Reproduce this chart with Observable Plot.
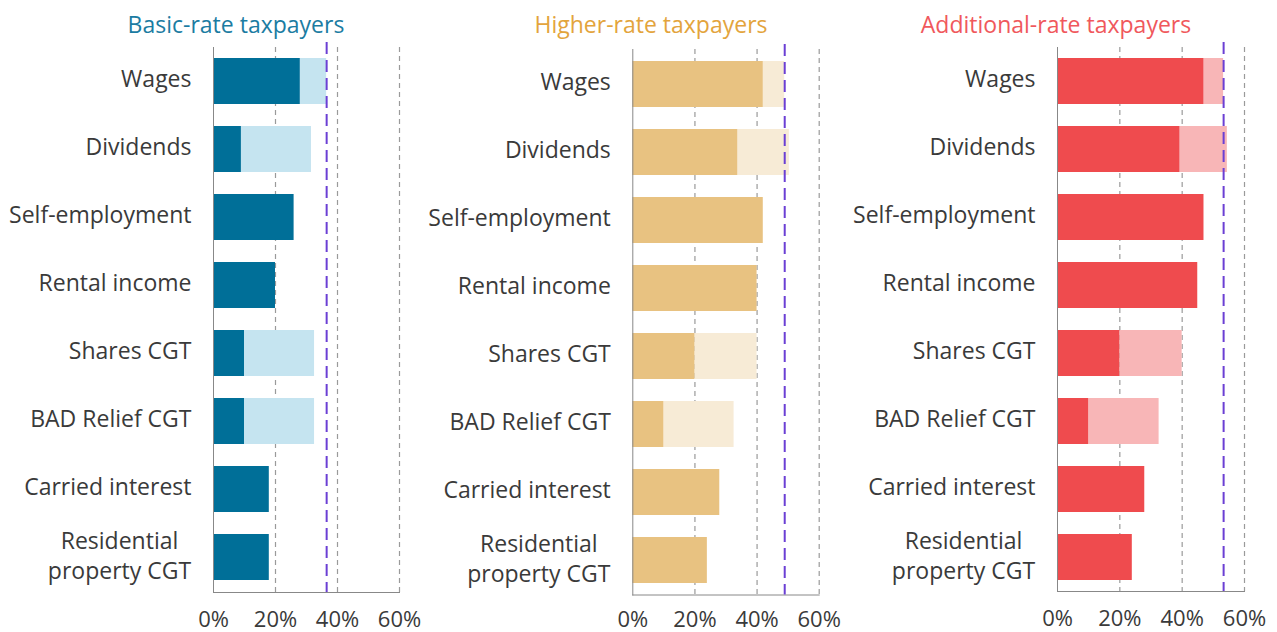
<!DOCTYPE html>
<html>
<head>
<meta charset="utf-8">
<script src="https://cdn.jsdelivr.net/npm/d3@7"></script>
<script src="https://cdn.jsdelivr.net/npm/@observablehq/plot@0.6"></script>
<style>
  html, body { margin: 0; padding: 0; background: #fff; }
  #chart { position: relative; width: 1277px; height: 632px; font-family: "Open Sans", "Noto Sans", sans-serif; }
  .panel { position: absolute; top: 0; }
  .title { position: absolute; top: 11px; font-size: 23px; line-height: 1.2; white-space: nowrap; transform: translateX(-50%); }
</style>
</head>
<body>
<div id="chart"></div>
<script>
// ---- data ----
const categories = ["Wages", "Dividends", "Self-employment", "Rental income", "Shares CGT", "BAD Relief CGT", "Carried interest", "Residential property CGT"];
const categoryLabels = ["Wages", "Dividends", "Self-employment", "Rental income", "Shares CGT", "BAD Relief CGT", "Carried interest", "Residential\nproperty CGT"];
const panelTitles = ["Basic-rate taxpayers", "Higher-rate taxpayers", "Additional-rate taxpayers"];
const basicMain = [28, 9, 26, 20, 10, 10, 18, 18];
const basicTotal = [36.5, 31.6, 26, 20, 32.6, 32.6, 18, 18];
const higherMain = [42, 33.8, 42, 40, 20, 10, 28, 24];
const higherTotal = [48.9, 50.4, 42, 40, 40, 32.6, 28, 24];
const additionalMain = [47, 39.3, 47, 45, 20, 10, 28, 24];
const additionalTotal = [53.3, 54.5, 47, 45, 40, 32.6, 28, 24];
const referenceRates = [36.5, 48.9, 53.3];
const xTicks = [0, 20, 40, 60];

// ---- styles ----
const panels = [
  {main: basicMain, total: basicTotal, dark: "#006f98", light: "#c5e4f0", titleColor: "#1b7ca2",
   left: 0, width: 425, marginLeft: 213, marginRight: 26, marginTop: 47, marginBottom: 40, tickPadding: 19, titleX: 236},
  {main: higherMain, total: higherTotal, dark: "#e8c281", light: "#f7ebd6", titleColor: "#e3a43c",
   left: 425, width: 425, marginLeft: 207.3, marginRight: 31.3, marginTop: 49, marginBottom: 37.5, tickPadding: 16, titleX: 651},
  {main: additionalMain, total: additionalTotal, dark: "#ef4b4e", light: "#f8b6b7", titleColor: "#f0585c",
   left: 850, width: 427, marginLeft: 207, marginRight: 33, marginTop: 47, marginBottom: 41, tickPadding: 19, titleX: 1056}
];

const FONT = "'Open Sans', 'Noto Sans', sans-serif";
const chart = document.getElementById("chart");

panels.forEach((p, i) => {
  const rows = categories.map((c, j) => ({
    category: c, label: categoryLabels[j], main: p.main[j], total: p.total[j]
  }));
  const single = rows.filter(r => !r.label.includes("\n"));
  const multi = rows.filter(r => r.label.includes("\n"));

  const svg = Plot.plot({
    width: p.width,
    height: 632,
    marginLeft: p.marginLeft,
    marginRight: p.marginRight,
    marginTop: p.marginTop,
    marginBottom: p.marginBottom,
    style: {fontFamily: FONT, background: "transparent", overflow: "visible"},
    x: {domain: [0, 60], axis: null},
    y: {domain: categories, paddingInner: 0.32, paddingOuter: 0.16, axis: null},
    marks: [
      Plot.gridX(xTicks.filter(d => d > 0), {stroke: "#9a9a9a", strokeOpacity: 1, strokeDasharray: "5,4", strokeWidth: 1.2}),
      Plot.barX(rows, {y: "category", x1: "main", x2: "total", fill: p.light}),
      Plot.barX(rows, {y: "category", x1: 0, x2: "main", fill: p.dark}),
      Plot.frame({anchor: "left", stroke: "#888"}),
      Plot.frame({anchor: "bottom", stroke: "#888"}),
      Plot.ruleX([referenceRates[i]], {stroke: "#6b3fd4", strokeWidth: 2, strokeDasharray: "12,6", insetTop: -5}),
      Plot.text(single, {y: "category", x: 0, text: "label", textAnchor: "end", dx: -22, dy: -2, fontSize: 23, fill: "#3a3a3a"}),
      Plot.text(multi, {y: "category", x: 0, text: "label", textAnchor: "middle", dx: -94, dy: -3, fontSize: 23, lineHeight: 1.3, fill: "#3a3a3a"}),
      Plot.axisX(xTicks, {tickSize: 0, tickPadding: p.tickPadding, tickFormat: d => d + "%", fontSize: 22, fill: "#3a3a3a"})
    ]
  });
  svg.classList.add("panel");
  svg.style.left = p.left + "px";
  chart.appendChild(svg);

  const t = document.createElement("div");
  t.className = "title";
  t.textContent = panelTitles[i];
  t.style.left = p.titleX + "px";
  t.style.color = p.titleColor;
  chart.appendChild(t);
});
</script>
</body>
</html>
